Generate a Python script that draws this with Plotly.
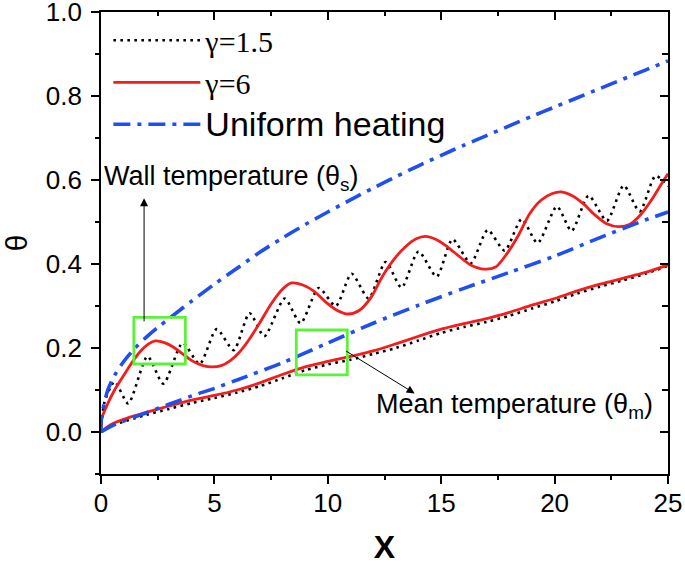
import plotly.graph_objects as go

# ---------------- data ----------------
x_uni_wall = [0, 0.02, 0.3, 0.6, 1, 1.5, 2, 2.5, 3, 4, 5, 6, 7, 8, 9, 10, 11, 12, 13, 14, 15, 16, 17, 18, 19, 20, 21, 22, 23, 24, 25]
y_uni_wall = [0, 0.035, 0.10, 0.135, 0.168, 0.2, 0.226, 0.249, 0.27, 0.312, 0.352, 0.39, 0.428, 0.462, 0.494, 0.524, 0.553, 0.581, 0.608, 0.634, 0.659, 0.683, 0.706, 0.729, 0.752, 0.774, 0.796, 0.818, 0.84, 0.862, 0.884]

x_uni_mean = [0, 0.5, 1, 2, 3, 4, 5, 6, 8, 10, 12, 14, 16, 18, 20, 22, 24, 25]
y_uni_mean = [0, 0.015, 0.026, 0.046, 0.066, 0.086, 0.104, 0.124, 0.165, 0.212, 0.259, 0.302, 0.342, 0.38, 0.419, 0.463, 0.505, 0.524]

x_mean = [0, 0.3, 0.6, 1, 1.5, 2, 3, 4, 5, 6, 7, 8, 9, 10, 11, 12, 13, 14, 15, 16, 17, 18, 19, 20, 21, 22, 23, 24, 25]
y_g6_mean = [0, 0.013, 0.022, 0.03, 0.039, 0.047, 0.062, 0.076, 0.087, 0.1, 0.117, 0.137, 0.155, 0.168, 0.18, 0.193, 0.21, 0.228, 0.245, 0.258, 0.27, 0.285, 0.302, 0.318, 0.336, 0.352, 0.366, 0.38, 0.398]
y_g15_mean = [0, 0.01, 0.018, 0.025, 0.033, 0.041, 0.055, 0.069, 0.081, 0.094, 0.109, 0.128, 0.147, 0.161, 0.172, 0.186, 0.2, 0.218, 0.236, 0.25, 0.262, 0.277, 0.294, 0.311, 0.33, 0.346, 0.361, 0.377, 0.396]

x_g6_wall = [0, 0.05, 0.3, 0.6, 0.9, 1.2, 1.5, 1.8, 2.1, 2.4, 2.8, 3.2, 3.6, 4.0, 4.5, 4.9, 5.3, 5.7, 6.1, 6.5, 7.0, 7.5, 8.0, 8.4, 8.9, 9.4, 9.9, 10.4, 10.9, 11.4, 11.9, 12.4, 12.9, 13.4, 13.9, 14.3, 14.8, 15.3, 15.8, 16.3, 16.9, 17.4, 17.9, 18.4, 18.9, 19.4, 19.9, 20.3, 20.8, 21.3, 21.8, 22.3, 22.8, 23.3, 23.8, 24.3, 24.7, 25.0]
y_g6_wall = [0.0, 0.035, 0.068, 0.1, 0.126, 0.152, 0.176, 0.196, 0.21, 0.217, 0.213, 0.202, 0.186, 0.17, 0.158, 0.155, 0.158, 0.17, 0.19, 0.218, 0.26, 0.305, 0.34, 0.355, 0.35, 0.335, 0.31, 0.29, 0.281, 0.29, 0.32, 0.37, 0.41, 0.44, 0.46, 0.466, 0.458, 0.44, 0.418, 0.398, 0.388, 0.393, 0.425, 0.468, 0.52, 0.552, 0.568, 0.572, 0.562, 0.542, 0.516, 0.496, 0.489, 0.494, 0.518, 0.555, 0.59, 0.615]

x_g15_wall = [0, 0.15, 0.6, 1.2, 2.05, 2.75, 3.6, 4.35, 5.1, 5.85, 6.55, 7.2, 8.1, 8.8, 9.6, 10.35, 11.05, 11.8, 12.55, 13.25, 14.0, 14.8, 15.5, 16.3, 17.05, 17.8, 18.55, 19.25, 20.1, 20.75, 21.5, 22.3, 23.05, 23.75, 24.45, 25.0]
y_g15_wall = [0, 0.07, 0.12, 0.068, 0.18, 0.115, 0.212, 0.162, 0.245, 0.195, 0.283, 0.228, 0.318, 0.259, 0.343, 0.3, 0.377, 0.318, 0.405, 0.344, 0.43, 0.37, 0.459, 0.402, 0.481, 0.432, 0.507, 0.45, 0.537, 0.479, 0.563, 0.503, 0.587, 0.525, 0.61, 0.585]

legend_names = ["γ=1.5", "γ=6", "Uniform heating"]
x_ticks = [0, 5, 10, 15, 20, 25]
y_ticks = [0.0, 0.2, 0.4, 0.6, 0.8, 1.0]

# ---------------- styles ----------------
BLACK = "#000000"
RED = "#f51c1c"
BLUE = "#1f4ff0"
GREEN = "#5cf23a"
SANS = "Liberation Sans, Arial, sans-serif"
SERIF = "Liberation Serif, Times New Roman, serif"

dot_line = dict(color=BLACK, width=2.6, dash="2.6px,4.4px", shape="spline", smoothing=0.7)
red_line = dict(color=RED, width=2.8, shape="spline", smoothing=0.8)
blue_line = dict(color=BLUE, width=3.6, dash="17px,7px,4px,7px", shape="spline", smoothing=0.8)

fig = go.Figure()
fig.add_trace(go.Scatter(x=x_g15_wall, y=y_g15_wall, mode="lines", line=dot_line,
                         name=legend_names[0]))
fig.add_trace(go.Scatter(x=x_mean, y=y_g15_mean, mode="lines", line=dot_line,
                         showlegend=False))
fig.add_trace(go.Scatter(x=x_g6_wall, y=y_g6_wall, mode="lines", line=red_line,
                         name=legend_names[1]))
fig.add_trace(go.Scatter(x=x_mean, y=y_g6_mean, mode="lines", line=red_line,
                         showlegend=False))
fig.add_trace(go.Scatter(x=x_uni_wall, y=y_uni_wall, mode="lines", line=blue_line,
                         name='<span style="font-family:Liberation Sans, Arial, sans-serif;font-size:34px">'
                              + legend_names[2] + '</span>'))
fig.add_trace(go.Scatter(x=x_uni_mean, y=y_uni_mean, mode="lines", line=blue_line,
                         showlegend=False))
# invisible helper traces so the mirrored top / right axes get drawn
fig.add_trace(go.Scatter(x=[12.5], y=[0.5], xaxis="x2", yaxis="y", mode="markers",
                         marker=dict(opacity=0), showlegend=False, hoverinfo="skip"))
fig.add_trace(go.Scatter(x=[12.5], y=[0.5], xaxis="x", yaxis="y2", mode="markers",
                         marker=dict(opacity=0), showlegend=False, hoverinfo="skip"))

# green boxes
for (bx0, bx1, by0, by1) in [(1.45, 3.72, 0.162, 0.273), (8.61, 10.86, 0.136, 0.243)]:
    fig.add_shape(type="rect", x0=bx0, x1=bx1, y0=by0, y1=by1, xref="x", yref="y",
                  line=dict(color=GREEN, width=2.8))

# arrows
fig.add_annotation(x=1.9, y=0.557, ax=1.9, ay=0.26, xref="x", yref="y", axref="x", ayref="y",
                   text="", showarrow=True, arrowhead=2, arrowsize=1.6, arrowwidth=1, arrowcolor=BLACK)
fig.add_annotation(x=13.83, y=0.092, ax=10.74, ay=0.195, xref="x", yref="y", axref="x", ayref="y",
                   text="", showarrow=True, arrowhead=2, arrowsize=1.6, arrowwidth=1, arrowcolor=BLACK)

# labels
fig.add_annotation(x=5.77, y=0.605, xref="x", yref="y", text="Wall temperature (θ<sub>s</sub>)",
                   showarrow=False, font=dict(family=SANS, size=27, color=BLACK))
fig.add_annotation(x=18.21, y=0.061, xref="x", yref="y", text="Mean temperature (θ<sub>m</sub>)",
                   showarrow=False, font=dict(family=SANS, size=27, color=BLACK))

axis_common = dict(showgrid=False, zeroline=False, showline=True, linecolor=BLACK, linewidth=1.6,
                   tickcolor=BLACK, tickwidth=1.6, automargin=False)

fig.update_layout(
    width=685, height=566,
    margin=dict(l=101, r=17, t=12, b=92),
    paper_bgcolor="white", plot_bgcolor="white",
    showlegend=True,
    legend=dict(x=0.013, y=0.995, xanchor="left", yanchor="top", bgcolor="rgba(0,0,0,0)",
                font=dict(family=SERIF, size=30, color=BLACK), itemwidth=87,
                traceorder="normal"),
    xaxis=dict(range=[0, 25], tickvals=x_ticks, ticks="outside", ticklen=8,
               minor=dict(dtick=2.5, tick0=0, ticks="outside", ticklen=4, tickcolor=BLACK, tickwidth=1.6),
               tickfont=dict(family=SANS, size=26, color=BLACK), ticklabeloverflow="allow",
               ticklabelstandoff=-3,
               title=dict(text="<b>X</b>", font=dict(family=SANS, size=32, color=BLACK), standoff=19),
               **axis_common),
    yaxis=dict(range=[-0.1, 1.0003], tickvals=y_ticks, tickformat=".1f", ticks="outside", ticklen=8,
               minor=dict(dtick=0.1, tick0=0, ticks="outside", ticklen=4, tickcolor=BLACK, tickwidth=1.6),
               tickfont=dict(family=SANS, size=26, color=BLACK), ticklabeloverflow="allow",
               ticklabelstandoff=4,
               title=dict(text="θ", font=dict(family=SANS, size=30, color=BLACK), standoff=16),
               **axis_common),
    xaxis2=dict(range=[0, 25], overlaying="x", side="top", anchor="y", tickvals=x_ticks,
                ticks="inside", ticklen=8, showticklabels=False,
                minor=dict(dtick=2.5, tick0=0, ticks="inside", ticklen=4, tickcolor=BLACK, tickwidth=1.6),
                **axis_common),
    yaxis2=dict(range=[-0.1, 1.0003], overlaying="y", side="right", anchor="x", tickvals=y_ticks,
                ticks="inside", ticklen=8, showticklabels=False,
                minor=dict(dtick=0.1, tick0=0, ticks="inside", ticklen=6, tickcolor=BLACK, tickwidth=1.6),
                **axis_common),
)

fig.write_html("out.html", config={"displayModeBar": False},
               post_script="document.body.style.margin='0';")
